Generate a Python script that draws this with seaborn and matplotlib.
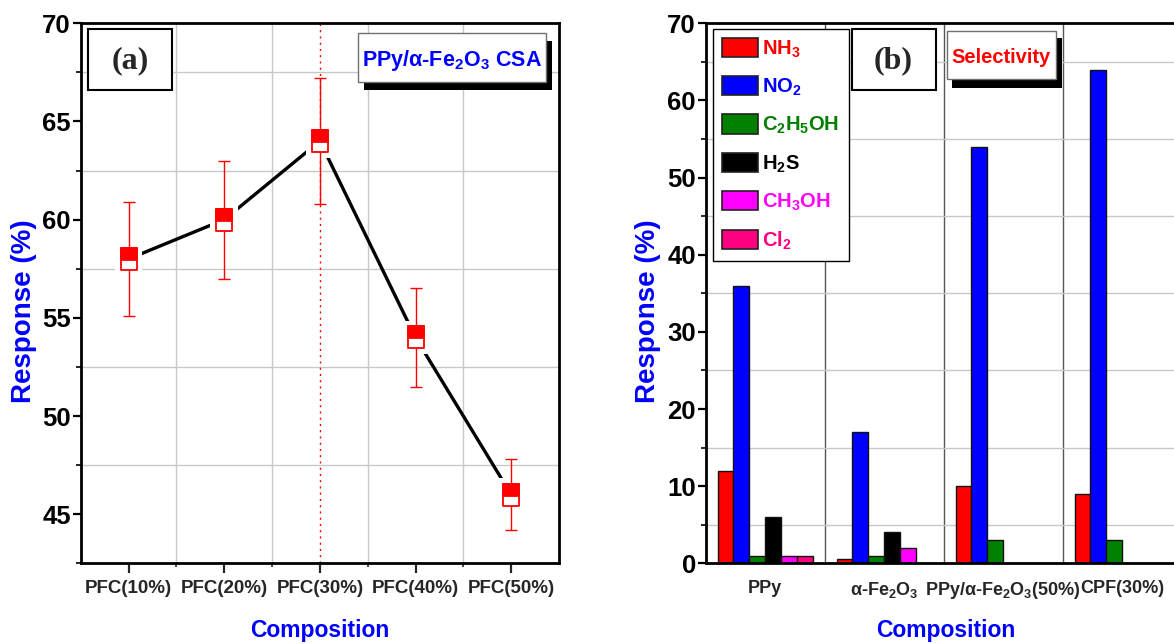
import numpy as np
import pandas as pd
import matplotlib
matplotlib.use("Agg")
import matplotlib.pyplot as plt
import seaborn as sns
from matplotlib import font_manager as fm
from matplotlib.patches import Rectangle, Patch
from matplotlib.path import Path
from matplotlib.ticker import MultipleLocator, FixedLocator

# ---------------- data ----------------
compositions = ["PFC(10%)", "PFC(20%)", "PFC(30%)", "PFC(40%)", "PFC(50%)"]
response_a = [58.0, 60.0, 64.0, 54.0, 46.0]
error_a = [2.9, 3.0, 3.2, 2.5, 1.8]
highlight = "PFC(30%)"

materials = ["PPy", "α-Fe$_2$O$_3$", "PPy/α-Fe$_2$O$_3$(50%)", "CPF(30%)"]
gases = ["NH$_3$", "NO$_2$", "C$_2$H$_5$OH", "H$_2$S", "CH$_3$OH", "Cl$_2$"]
nh3 = [12, 0.6, 10, 9]
no2 = [36, 17, 54, 64]
c2h5oh = [1, 1, 3, 3]
h2s = [6, 4, 0, 0]
ch3oh = [1, 2, 0, 0]
cl2 = [1, 0, 0, 0]
gas_colors = ["#ff0000", "#0000ff", "#007f00", "#000000", "#ff00ff", "#ff0080"]

# ---------------- fonts ----------------
def has_font(name):
    try:
        fm.findfont(fm.FontProperties(family=name), fallback_to_default=False)
        return True
    except Exception:
        return False

if has_font("Liberation Sans Narrow"):
    NARROW, k = "Liberation Sans Narrow", 1.15
else:
    NARROW, k = "Liberation Sans", 1.0

sns.set_style("white")
plt.rcParams["font.family"] = [NARROW, "DejaVu Sans"]
plt.rcParams["font.weight"] = "bold"
plt.rcParams["mathtext.fontset"] = "custom"
plt.rcParams["mathtext.rm"] = NARROW + ":bold"
plt.rcParams["mathtext.it"] = NARROW + ":bold"
plt.rcParams["mathtext.bf"] = NARROW + ":bold"
plt.rcParams["mathtext.default"] = "rm"

W, H = 1174, 644
fig = plt.figure(figsize=(W / 100, H / 100), dpi=100)
fig.patch.set_facecolor("white")

def ax_rect(x0, y0, x1, y1):
    return [x0 / W, 1 - y1 / H, (x1 - x0) / W, (y1 - y0) / H]

ax1 = fig.add_axes(ax_rect(80.7, 23.3, 559.0, 563.3))
ax2 = fig.add_axes(ax_rect(705.7, 23.3, 1181.7, 563.3))

BLUE = "#0000ff"

# ---------------- panel (a) ----------------
df_a = pd.DataFrame({"composition": compositions, "response": response_a, "error": error_a})
df_a["pos"] = np.arange(len(df_a))

ax1.set_axisbelow(True)
ax1.axvline(compositions.index(highlight), color="red", lw=1.0, ls=(0, (1.5, 3)), zorder=1)
sns.lineplot(data=df_a, x="pos", y="response", color="black", lw=2.4, sort=False,
             errorbar=None, ax=ax1, zorder=2)

full_rect = Path([(-0.375, -0.5), (0.375, -0.5), (0.375, 0.5), (-0.375, 0.5), (-0.375, -0.5)],
                 [Path.MOVETO, Path.LINETO, Path.LINETO, Path.LINETO, Path.CLOSEPOLY])
top_rect = Path([(-0.375, -0.04), (0.375, -0.04), (0.375, 0.5), (-0.375, 0.5), (-0.375, -0.04)],
                [Path.MOVETO, Path.LINETO, Path.LINETO, Path.LINETO, Path.CLOSEPOLY])
halo_rect = Path([(-0.42, -0.5), (0.42, -0.5), (0.42, 0.5), (-0.42, 0.5), (-0.42, -0.5)],
                 [Path.MOVETO, Path.LINETO, Path.LINETO, Path.LINETO, Path.CLOSEPOLY])

sns.scatterplot(data=df_a, x="pos", y="response", marker=halo_rect, s=560, color="white",
                edgecolor="none", linewidth=0, ax=ax1, zorder=2.5)
ax1.errorbar(df_a["pos"], df_a["response"], yerr=df_a["error"], fmt="none", ecolor="red",
             elinewidth=1.0, capsize=4.5, capthick=1.0, zorder=3)
sns.scatterplot(data=df_a, x="pos", y="response", marker=full_rect, s=262, color="white",
                edgecolor="red", linewidth=1.3, ax=ax1, zorder=4)
sns.scatterplot(data=df_a, x="pos", y="response", marker=top_rect, s=262, color="red",
                edgecolor="red", linewidth=1.3, ax=ax1, zorder=5)

ax1.set_xlim(-0.5, len(compositions) - 0.5)
ax1.set_ylim(42.5, 70)
ax1.set_xticks(df_a["pos"])
ax1.set_xticklabels(compositions)
ax1.xaxis.set_minor_locator(FixedLocator(np.arange(0.5, len(compositions) - 1, 1.0)))
ax1.yaxis.set_major_locator(MultipleLocator(5))
ax1.yaxis.set_minor_locator(MultipleLocator(2.5))
ax1.grid(False)
ax1.grid(True, which="minor", color="#c8c8c8", lw=1.0)

# ---------------- panel (b) ----------------
df_b = pd.DataFrame({"material": materials, gases[0]: nh3, gases[1]: no2, gases[2]: c2h5oh,
                     gases[3]: h2s, gases[4]: ch3oh, gases[5]: cl2})
df_b = df_b.melt(id_vars="material", var_name="gas", value_name="response")

ax2.set_axisbelow(True)
sns.barplot(data=df_b, x="material", y="response", hue="gas", order=materials, hue_order=gases,
            palette=gas_colors, saturation=1, width=0.8, edgecolor="#111111", linewidth=1.0,
            errorbar=None, legend=False, ax=ax2)
ax2.set_xlim(-0.5, len(materials) - 0.5)
ax2.set_ylim(0, 70)
ax2.yaxis.set_major_locator(MultipleLocator(10))
ax2.yaxis.set_minor_locator(MultipleLocator(5))
ax2.xaxis.set_minor_locator(FixedLocator(np.arange(0.5, len(materials) - 1, 1.0)))
ax2.grid(False)
ax2.yaxis.grid(True, which="minor", color="#c8c8c8", lw=1.0)
ax2.xaxis.grid(True, which="minor", color="#555555", lw=1.0)

handles = [Patch(facecolor=c, edgecolor="#222222", linewidth=1.2) for c in gas_colors]
leg = ax2.legend(handles, gases, loc="upper left", bbox_to_anchor=(713 / W, 1 - 28.7 / H),
                 bbox_transform=fig.transFigure, frameon=True, fancybox=False, shadow=False,
                 edgecolor="black", framealpha=1, borderaxespad=0,
                 prop=fm.FontProperties(family=NARROW, weight="bold", size=14.5 * k),
                 handlelength=1.8, handleheight=1.1, labelspacing=0.82, handletextpad=0.2,
                 borderpad=0.45)
leg.get_frame().set_linewidth(1.0)
for t, c in zip(leg.get_texts(), gas_colors):
    t.set_color(c)

# ---------------- common styling ----------------
for ax in (ax1, ax2):
    for sp in ax.spines.values():
        sp.set_linewidth(2.0)
        sp.set_color("black")
    ax.set_ylabel("Response (%)", color=BLUE, fontsize=20, fontweight="bold",
                  family="Liberation Sans")
    ax.set_xlabel("Composition", color=BLUE, fontsize=16.5 * k, fontweight="bold", family=NARROW)
    ax.tick_params(axis="y", which="major", direction="out", length=6, width=1.6, pad=1,
                   left=True, colors="black", labelsize=18.5 * k)
    ax.tick_params(axis="y", which="minor", direction="out", length=3.5, width=1.4, left=True)

ax1.tick_params(axis="x", which="major", direction="out", length=7, width=1.6, pad=5,
                bottom=True, labelsize=13.5 * k)
ax1.tick_params(axis="x", which="minor", direction="out", length=3, width=1.2, bottom=True)
ax2.tick_params(axis="x", which="both", length=0, pad=12, labelsize=13 * k)

ax1.yaxis.set_label_coords(-0.092, 0.467)
ax2.yaxis.set_label_coords(-0.094, 0.467)
ax1.xaxis.set_label_coords(0.5, -0.103)
ax2.xaxis.set_label_coords(0.505, -0.103)

# ---------------- annotation boxes ----------------
def px_box(x0, y0, x1, y1, fc="white", ec="black", lw=1.5, z=10):
    fig.add_artist(Rectangle((x0 / W, 1 - y1 / H), (x1 - x0) / W, (y1 - y0) / H,
                             transform=fig.transFigure, fc=fc, ec=ec, lw=lw, zorder=z))

px_box(88, 29, 172, 90)
fig.text(130 / W, 1 - 61 / H, "(a)", ha="center", va="center", fontsize=23,
         fontweight="bold", family="Liberation Serif", zorder=11)
px_box(852.3, 29.3, 936, 90)
fig.text(893 / W, 1 - 61 / H, "(b)", ha="center", va="center", fontsize=23,
         fontweight="bold", family="Liberation Serif", zorder=11)

px_box(363.5, 41, 551.7, 90, fc="black", ec="black", lw=0)
px_box(358.3, 33.3, 546, 81.7, fc="white", ec="#707070", lw=1.0, z=10.5)
fig.text(452 / W, 1 - 66 / H, "PPy/α-Fe$_2$O$_3$ CSA", ha="center", va="baseline",
         color=BLUE, fontsize=15.5 * k, fontweight="bold", family=NARROW, zorder=11)

px_box(952.3, 38.3, 1062, 87.7, fc="black", ec="black", lw=0)
px_box(946.7, 30.7, 1055.7, 79.3, fc="white", ec="#707070", lw=1.0, z=10.5)
fig.text(1001 / W, 1 - 63 / H, "Selectivity", ha="center", va="baseline",
         color="#ff0000", fontsize=14.5 * k, fontweight="bold", family=NARROW, zorder=11)

fig.savefig("out.png", dpi=100, facecolor="white")
